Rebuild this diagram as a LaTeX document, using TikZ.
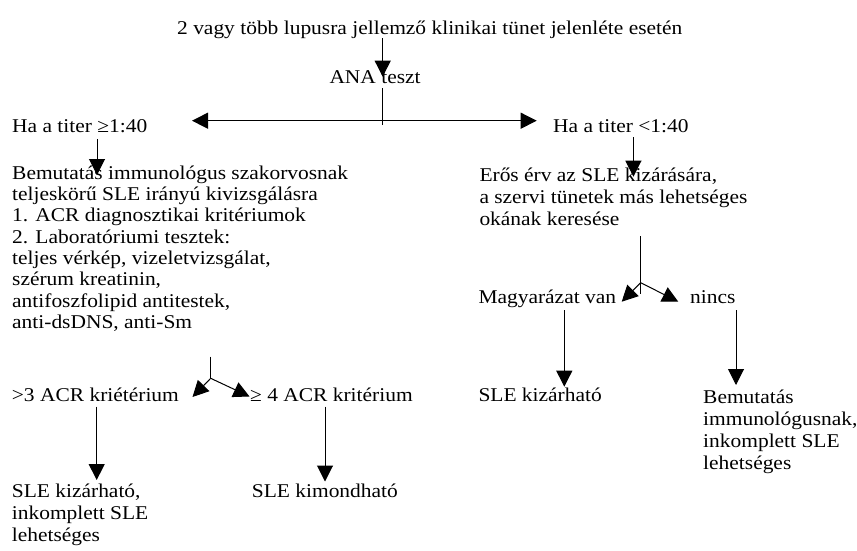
\documentclass[tikz,border=0pt]{standalone}
\usepackage{fontspec}
\setmainfont{Liberation Serif}[FakeStretch=1.1]
\usepackage{tikz}
\usetikzlibrary{arrows.meta, positioning}
\tikzstyle{arrow} = [line width=1pt,->,>={Triangle[length=16pt,width=16pt]}]
\tikzstyle{line} = [line width=1pt]
% multi-line texts are placed by the baseline of their last line
\tikzstyle{txt} = [anchor=base west, inner sep=0pt, align=left, font=\fontsize{19.5}{22}\selectfont]

\begin{document}
\begin{tikzpicture}[x=1pt, y=-1pt]
        \useasboundingbox (0, 0) rectangle (857, 550);
        % texts
        \node[txt] (start) at (177, 34) {2 vagy több lupusra jellemző klinikai tünet jelenléte esetén};
        \node[txt] (ana) at (329.3, 83.3) {ANA teszt};
        \node[txt] (pos) at (12, 132) {Ha a titer ≥1:40};
        \node[txt] (neg) at (553, 132) {Ha a titer <1:40};
        \node[txt, font=\fontsize{19.5}{21.3}\selectfont] (refer) at (12, 328.3) {Bemutatás immunológus szakorvosnak\\teljeskörű SLE irányú kivizsgálásra\\1. ACR diagnosztikai kritériumok\\2. Laboratóriumi tesztek:\\teljes vérkép, vizeletvizsgálat,\\szérum kreatinin,\\antifoszfolipid antitestek,\\anti-dsDNS, anti-Sm};
        \node[txt] (exclude) at (479.3, 225) {Erős érv az SLE kizárására,\\a szervi tünetek más lehetséges\\okának keresése};
        \node[txt] (expl) at (478.3, 303.3) {Magyarázat van};
        \node[txt] (noexpl) at (690, 303.3) {nincs};
        \node[txt] (sleno) at (478.3, 401) {SLE kizárható};
        \node[txt] (immuno) at (703, 469.3) {Bemutatás\\immunológusnak,\\inkomplett SLE\\lehetséges};
        \node[txt] (less) at (11.7, 401.7) {>3 ACR kriétérium};
        \node[txt] (more) at (250, 401.7) {≥ 4 ACR kritérium};
        \node[txt] (incompl) at (11.7, 541.7) {SLE kizárható,\\inkomplett SLE\\lehetséges};
        \node[txt] (sleyes) at (251.7, 497) {SLE kimondható};
        % branch points
        \coordinate (top) at (382.7, 125);
        \coordinate (rsplit) at (640.7, 282.7);
        \coordinate (lsplit) at (210.7, 378.3);
        % arrows
        \draw[arrow] (382.7, 38.3) -- (382.7, 76.7);
        \draw[line] (382.7, 88.3) -- (top);
        \draw[arrow, <->] (192, 120.7) -- (536.7, 120.7);
        \draw[arrow] (97, 139) -- (97, 175);
        \draw[arrow] (633.4, 137) -- (633.4, 176.7);
        \draw[line] (640.7, 236) -- (640.7, 294);
        \draw[arrow] (rsplit) -- (621.7, 301.7);
        \draw[arrow] (rsplit) -- (678.3, 301.7);
        \draw[arrow] (564.3, 310) -- (564.3, 386.7);
        \draw[arrow] (736, 310) -- (736, 385);
        \draw[line] (210.7, 356.7) -- (lsplit);
        \draw[arrow] (lsplit) -- (192.5, 397);
        \draw[arrow] (lsplit) -- (249.5, 396.5);
        \draw[arrow] (96.7, 406.7) -- (96.7, 480);
        \draw[arrow] (325, 406.7) -- (325, 481.5);
\end{tikzpicture}
\end{document}
